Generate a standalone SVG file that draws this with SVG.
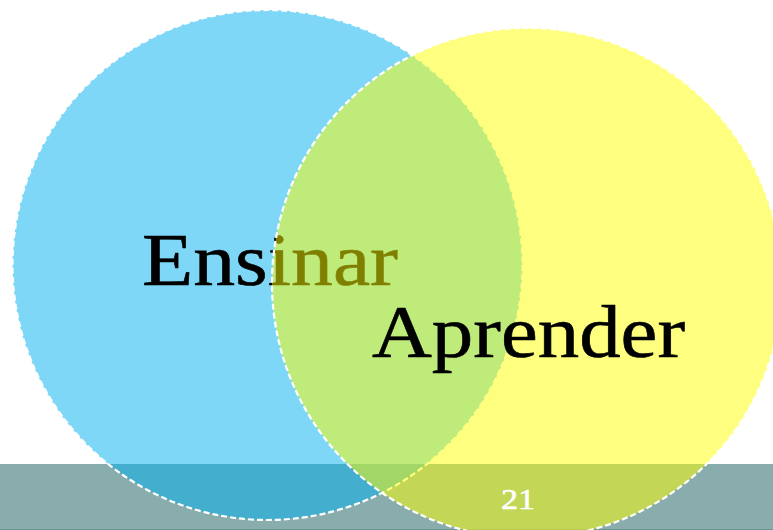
<svg xmlns="http://www.w3.org/2000/svg" width="773" height="530" viewBox="0 0 773 530">
<style>
.circ{stroke:#ffffff;stroke-width:2.2;stroke-dasharray:6 3;fill-opacity:0.5}
.big{font-family:"Liberation Serif","Times New Roman",serif;font-size:74px;fill:#000000;stroke:#000000;stroke-width:0.6}
.num{font-family:"Liberation Serif","Times New Roman",serif;font-size:29px;fill:#ffffff;stroke:#ffffff;stroke-width:0.5}
</style>
<rect x="0" y="0" width="773" height="530" fill="#ffffff"/>
<g id="footer">
<rect x="0" y="464" width="773" height="66" fill="#89adad"/>
<rect x="0" y="529" width="773" height="1" fill="#6f9494"/>
</g>
<g id="ensinar">
<circle class="circ" cx="267.5" cy="265" r="255" fill="#00b0f0"/>
<text class="big" x="142" y="285" textLength="256" lengthAdjust="spacingAndGlyphs">Ensinar</text>
</g>
<g id="aprender">
<circle class="circ" cx="527" cy="283" r="255" fill="#ffff00"/>
<text class="big" x="372" y="357" textLength="313" lengthAdjust="spacingAndGlyphs">Aprender</text>
</g>
<g id="page-number">
<text class="num" x="501" y="509" textLength="34" lengthAdjust="spacingAndGlyphs">21</text>
</g>
</svg>
